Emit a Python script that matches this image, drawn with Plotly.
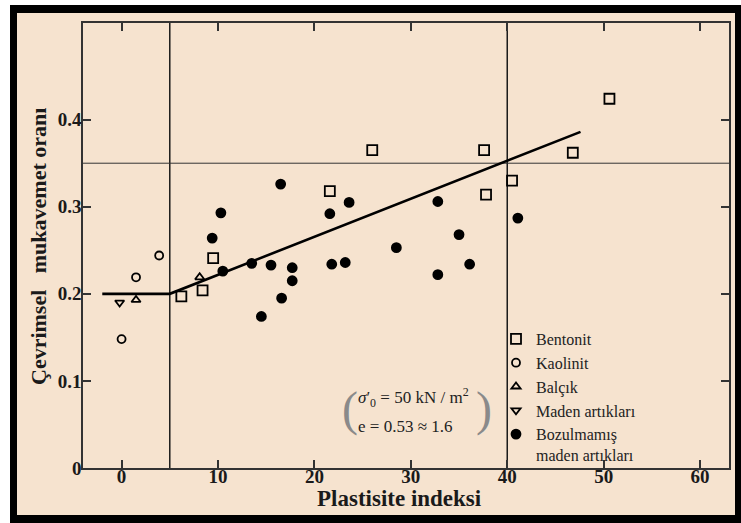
import plotly.graph_objects as go

# ---- data ----
bentonit_x = [6.2, 8.4, 9.5, 21.6, 26.0, 37.6, 37.8, 40.5, 46.8, 50.6]
bentonit_y = [0.197, 0.204, 0.241, 0.318, 0.365, 0.365, 0.314, 0.330, 0.362, 0.424]

kaolinit_x = [0.0, 1.5, 3.9]
kaolinit_y = [0.148, 0.219, 0.244]

balcik_x = [1.5, 8.1]
balcik_y = [0.193, 0.219]

maden_x = [-0.2]
maden_y = [0.190]

bozul_x = [9.4, 10.3, 10.5, 13.5, 14.5, 15.5, 16.5, 16.6, 17.7, 17.7,
           21.6, 21.8, 23.2, 23.6, 28.5, 32.8, 32.8, 35.0, 36.1, 41.1]
bozul_y = [0.264, 0.293, 0.226, 0.235, 0.174, 0.233, 0.326, 0.195, 0.230, 0.215,
           0.292, 0.234, 0.236, 0.305, 0.253, 0.306, 0.222, 0.268, 0.234, 0.287]

fit_x = [-2.0, 5.0, 47.6]
fit_y = [0.20, 0.20, 0.386]

vline_x = [5, 40]
hline_y = 0.35

x_ticks = [0, 10, 20, 30, 40, 50, 60]
y_ticks = [0, 0.1, 0.2, 0.3, 0.4]
y_ticklabels = ["0", "0.1", "0.2", "0.3", "0.4"]

names = ["Bentonit", "Kaolinit", "Balçık", "Maden artıkları", "Bozulmamış<br>maden artıkları"]

# ---- layout geometry ----
W, H = 741, 523
ML, MR, MT, MB = 83, 12, 23, 55
PW, PH = W - ML - MR, H - MT - MB
BG = "#F6E3CF"
INK = "#1a1a1a"
SERIF = "Liberation Serif"


def px(x):
    return (x - ML) / PW


def py(y):
    return 1 - (y - MT) / PH


fig = go.Figure()

# reference lines
for vx in vline_x:
    fig.add_trace(go.Scatter(x=[vx, vx], y=[0, 0.52], mode="lines",
                             line=dict(color=INK, width=1.5), showlegend=False, hoverinfo="skip"))
fig.add_trace(go.Scatter(x=[-5, 65], y=[hline_y, hline_y], mode="lines",
                         line=dict(color="#333", width=1), showlegend=False, hoverinfo="skip"))
# fit line
fig.add_trace(go.Scatter(x=fit_x, y=fit_y, mode="lines",
                         line=dict(color="black", width=2.6), showlegend=False, hoverinfo="skip"))

series = [
    (bentonit_x, bentonit_y, "square-open", 10),
    (kaolinit_x, kaolinit_y, "circle-open", 8),
    (balcik_x, balcik_y, "triangle-up-open", 8),
    (maden_x, maden_y, "triangle-down-open", 8),
    (bozul_x, bozul_y, "circle", 9),
]
for i, ((xs, ys, sym, sz), nm) in enumerate(zip(series, names)):
    fig.add_trace(go.Scatter(
        x=xs, y=ys, mode="markers", name=nm, legendgroup=str(i),
        marker=dict(symbol=sym, size=sz, color="black",
                    line=dict(color="black", width=1.8)),
    ))

# background frame
fig.add_shape(type="rect", xref="paper", yref="paper", layer="below",
              x0=px(10), x1=px(741), y0=py(523), y1=py(5),
              fillcolor="black", line=dict(width=0))
fig.add_shape(type="rect", xref="paper", yref="paper", layer="below",
              x0=px(17), x1=px(735), y0=py(515), y1=py(13),
              fillcolor=BG, line=dict(width=0))

annotations = [
    dict(text="Plastisite indeksi", x=px(399), y=py(498), xref="paper", yref="paper",
         xanchor="center", yanchor="middle",
         showarrow=False, font=dict(family=SERIF, size=23, color=INK, weight="bold")),
    dict(text="Çevrimsel   mukavemet oranı", x=px(38), y=py(247), xref="paper", yref="paper",
         xanchor="center", yanchor="middle",
         showarrow=False, textangle=-90, font=dict(family=SERIF, size=22, color=INK, weight="bold")),
    dict(text="<i>σ</i>′<sub>0</sub> = 50 kN / m<sup>2</sup>", x=px(356), y=py(397),
         xref="paper", yref="paper", xanchor="left", yanchor="middle", align="left", showarrow=False,
         font=dict(family=SERIF, size=17, color="#222")),
    dict(text="e = 0.53 ≈ 1.6", x=px(356), y=py(426),
         xref="paper", yref="paper", xanchor="left", yanchor="middle", align="left", showarrow=False,
         font=dict(family=SERIF, size=17, color="#222")),
    dict(text="(", x=px(350), y=py(409), xref="paper", yref="paper", showarrow=False,
         xanchor="center", yanchor="middle",
         font=dict(family=SERIF, size=48, color="#8a8a8a", weight=300)),
    dict(text=")", x=px(484), y=py(409), xref="paper", yref="paper", showarrow=False,
         xanchor="center", yanchor="middle",
         font=dict(family=SERIF, size=48, color="#8a8a8a", weight=300)),
]

fig.update_layout(
    width=W, height=H,
    margin=dict(l=ML, r=MR, t=MT, b=MB, autoexpand=False),
    paper_bgcolor="white", plot_bgcolor=BG,
    annotations=annotations,
    showlegend=True,
    legend=dict(x=px(496), y=py(322), xanchor="left", yanchor="top", valign="top",
                bgcolor="rgba(0,0,0,0)", tracegroupgap=0, itemwidth=30,
                font=dict(family=SERIF, size=16, color="#222")),
    font=dict(family=SERIF, color=INK),
)
fig.update_xaxes(range=[-4, 63], tickvals=x_ticks, ticktext=[str(t) for t in x_ticks],
                 showgrid=False, zeroline=False,
                 showline=True, linecolor="#333", linewidth=1.5, mirror="ticks",
                 ticks="inside", ticklen=8, tickwidth=1.5, tickcolor="#333",
                 ticklabelstandoff=-10,
                 tickfont=dict(family=SERIF, size=19, color=INK, weight="bold"))
fig.update_yaxes(range=[0, 0.511], tickvals=y_ticks, ticktext=y_ticklabels,
                 showgrid=False, zeroline=False,
                 showline=True, linecolor="#333", linewidth=1.5, mirror="ticks",
                 ticks="inside", ticklen=8, tickwidth=1.5, tickcolor="#333",
                 ticklabelstandoff=-4,
                 tickfont=dict(family=SERIF, size=19, color=INK, weight="bold"))

fig.write_html("out.html", config={"displayModeBar": False})

# remove the default page margin so the figure sits at the window's top-left corner
with open("out.html", "r", encoding="utf-8") as f:
    html = f.read()
html = html.replace("<body>", '<body style="margin:0;padding:0;overflow:hidden">', 1)
with open("out.html", "w", encoding="utf-8") as f:
    f.write(html)
